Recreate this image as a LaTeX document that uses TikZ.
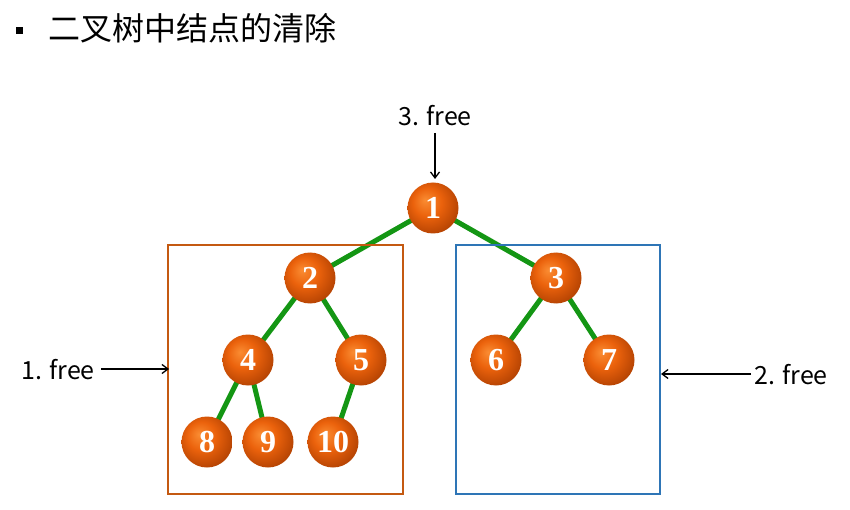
\documentclass[tikz,border=0pt]{standalone}
\usepackage{fontspec}
\setmainfont{Liberation Serif}
\newfontfamily\cjk{Noto Sans CJK SC}
\newfontfamily\numfont{Liberation Serif}
\usetikzlibrary{arrows.meta}
\definecolor{ob1}{RGB}{250,140,50}
\definecolor{ob2}{RGB}{235,98,12}
\definecolor{ob3}{RGB}{165,58,0}
\definecolor{edgegreen}{RGB}{20,150,20}
\definecolor{boxorange}{RGB}{196,89,17}
\definecolor{boxblue}{RGB}{46,117,182}
\pgfdeclareradialshading{orangeball}{\pgfpoint{-8bp}{8bp}}{color(0bp)=(ob1); color(14bp)=(ob2); color(34bp)=(ob3); color(50bp)=(ob3)}
\pgfdeclarelayer{bg}
\pgfsetlayers{bg,main}
\tikzset{
  tnode/.style={circle, minimum size=51pt, inner sep=0pt, shading=orangeball,
    font=\numfont\bfseries\fontsize{32}{32}\selectfont, text=white},
  tedge/.style={edgegreen, line width=5pt},
  lbl/.style={font=\cjk\fontsize{25}{25}\selectfont, inner sep=0pt},
  arr/.style={-{Straight Barb[length=6pt,width=9pt]}, line width=1.3pt, black},
}
\begin{document}
\begin{tikzpicture}[x=1pt,y=-1pt]
\useasboundingbox (0,0) rectangle (850,510);
% title
\node[fill=black, minimum size=7pt, inner sep=0pt] (bul) at (19,31) {};
\node[anchor=west, font=\cjk\fontsize{32}{32}\selectfont, inner sep=0pt] (title) at (48,28) {二叉树中结点的清除};
% boxes
\node[draw=boxorange, line width=1.5pt, minimum width=235pt, minimum height=249pt, inner sep=0pt] (lbox) at (285.5,369.5) {};
\node[draw=boxblue, line width=1.5pt, minimum width=204pt, minimum height=249pt, inner sep=0pt] (rbox) at (558,369.5) {};
% nodes
\node[tnode] (n1) at (433,208) {1};
\node[tnode] (n2) at (310,278) {2};
\node[tnode] (n3) at (556,278) {3};
\node[tnode] (n4) at (248,360) {4};
\node[tnode] (n5) at (361,360) {5};
\node[tnode] (n6) at (496,360) {6};
\node[tnode] (n7) at (609,360) {7};
\node[tnode] (n8) at (207,442) {8};
\node[tnode] (n9) at (268,442) {9};
\node[tnode] (n10) at (333,442) {10};
% edges behind
\begin{pgfonlayer}{bg}
\draw[tedge] (n1.center) -- (n2.center);
\draw[tedge] (n1.center) -- (n3.center);
\draw[tedge] (n2.center) -- (n4.center);
\draw[tedge] (n2.center) -- (n5.center);
\draw[tedge] (n3.center) -- (n6.center);
\draw[tedge] (n3.center) -- (n7.center);
\draw[tedge] (n4.center) -- (n8.center);
\draw[tedge] (n4.center) -- (n9.center);
\draw[tedge] (n5.center) -- (n10.center);
\end{pgfonlayer}
% labels
\node[lbl] (f3) at (435,116) {3. free};
\node[lbl] (f1) at (58,370) {1. free};
\node[lbl] (f2) at (791,375) {2. free};
\coordinate (a3s) at (435,133);
\coordinate (a3e) at (435,179);
\draw[arr] (a3s) -- (a3e);
\coordinate (a1s) at (101,369);
\coordinate (a1e) at (169,369);
\draw[arr] (a1s) -- (a1e);
\coordinate (a2s) at (751,374);
\coordinate (a2e) at (661,374);
\draw[arr] (a2s) -- (a2e);
\end{tikzpicture}
\end{document}
